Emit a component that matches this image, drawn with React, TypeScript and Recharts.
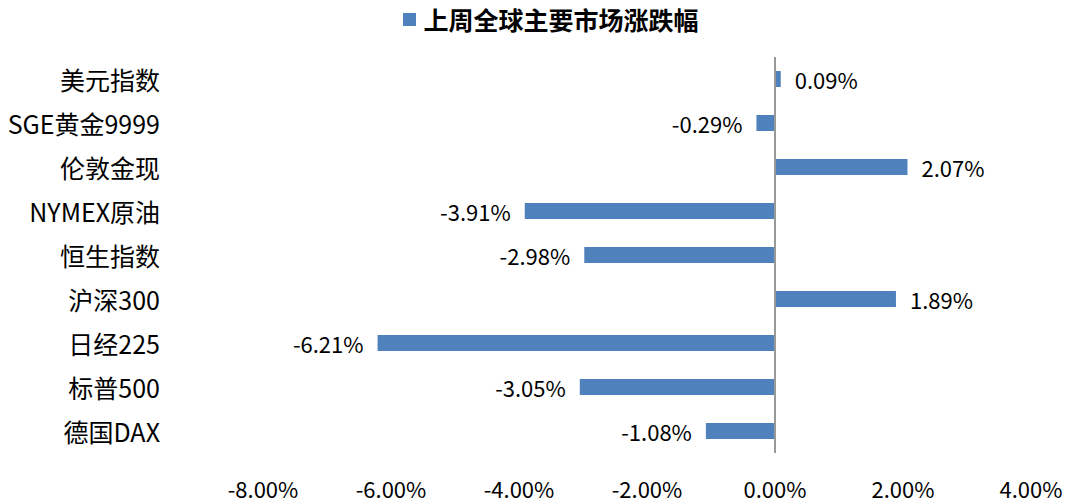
import React from 'react';
import { BarChart, Bar, XAxis, YAxis, ReferenceLine, LabelList, Legend } from 'recharts';

const categories = ['美元指数', 'SGE黄金9999', '伦敦金现', 'NYMEX原油', '恒生指数', '沪深300', '日经225', '标普500', '德国DAX'];
const changes = [0.09, -0.29, 2.07, -3.91, -2.98, 1.89, -6.21, -3.05, -1.08];
const xTicks = [-8, -6, -4, -2, 0, 2, 4];
const seriesName = '上周全球主要市场涨跌幅';

const data = categories.map((name, i) => ({ name, value: changes[i] }));

const FONT = '"Noto Sans CJK SC", "Noto Sans", sans-serif';
const BLUE = '#4F81BD';

const YTick = (props: any) => {
  const { x, y, payload } = props;
  return (
    <text x={x - 95} y={y} textAnchor="end" dominantBaseline="central" fontFamily={FONT} fontSize={25} fill="#000">
      {payload.value}
    </text>
  );
};

const XTick = (props: any) => {
  const { x, y, payload } = props;
  return (
    <text x={x} y={y + 27} textAnchor="middle" dominantBaseline="central" fontFamily={FONT} fontSize={22} fill="#000">
      {payload.value.toFixed(2) + '%'}
    </text>
  );
};

const ValueLabel = (props: any) => {
  const { x, y, width, height, value } = props;
  const neg = value < 0;
  const endX = x + width;
  const tx = neg ? Math.min(x, endX) - 14 : Math.max(x, endX) + 14;
  return (
    <text x={tx} y={y + height / 2} textAnchor={neg ? 'end' : 'start'} dominantBaseline="central" fontFamily={FONT} fontSize={22} fill="#000">
      {value.toFixed(2) + '%'}
    </text>
  );
};

const LegendContent = () => (
  <div style={{ display: 'flex', alignItems: 'center', justifyContent: 'center', fontFamily: FONT }}>
    <span style={{ width: 13, height: 13, background: BLUE, display: 'inline-block', marginRight: 7 }} />
    <span style={{ fontSize: 25, fontWeight: 700, color: '#000', lineHeight: '30px' }}>{seriesName}</span>
  </div>
);

export default function App() {
  return (
    <div style={{ position: 'absolute', left: 0, top: 0, width: 1080, height: 503, background: '#fff' }}>
      <BarChart
        width={1080}
        height={503}
        data={data}
        layout="vertical"
        margin={{ top: 27, right: 49, left: 0, bottom: 0 }}
        barSize={16}
      >
        <XAxis
          type="number"
          domain={[-8, 4]}
          ticks={xTicks}
          axisLine={false}
          tickLine={false}
          height={50}
          tick={<XTick />}
          interval={0}
        />
        <YAxis
          type="category"
          dataKey="name"
          width={263}
          axisLine={false}
          tickLine={false}
          tick={<YTick />}
          interval={0}
        />
        <Legend
          verticalAlign="top"
          content={<LegendContent />}
          wrapperStyle={{ top: 4, left: 11, width: 1080 }}
        />
        <Bar dataKey="value" name={seriesName} fill={BLUE} isAnimationActive={false}>
          <LabelList dataKey="value" content={<ValueLabel />} />
        </Bar>
        <ReferenceLine x={0} stroke="#999" strokeWidth={2} ifOverflow="extendDomain" />
      </BarChart>
    </div>
  );
}
